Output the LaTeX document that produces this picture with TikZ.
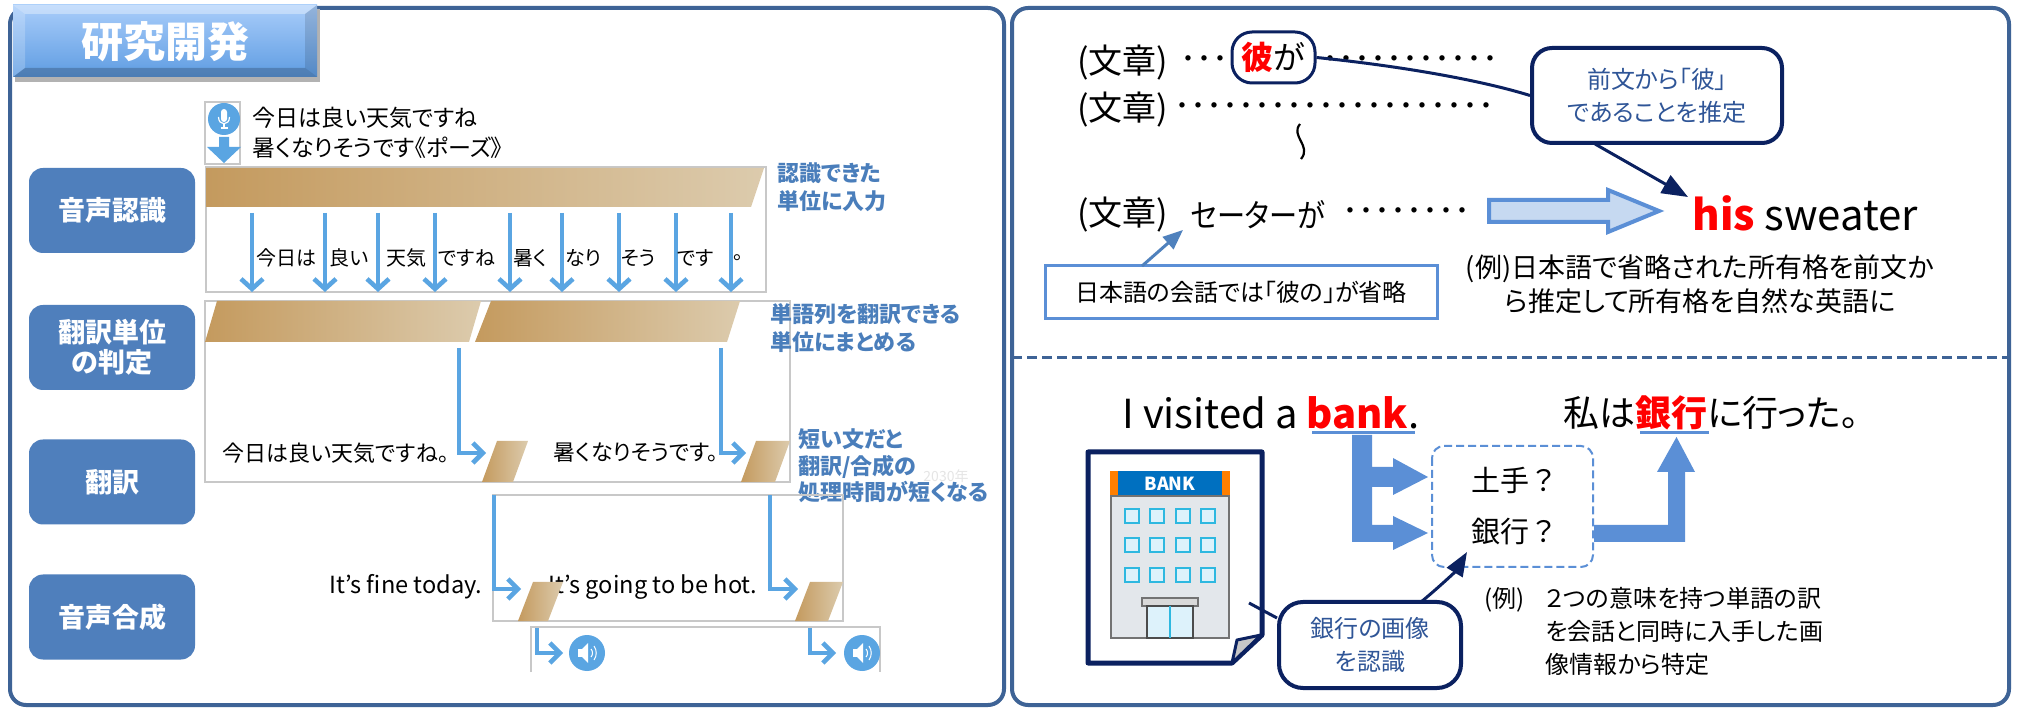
\documentclass[tikz,border=0pt]{standalone}
\usepackage{fontspec}
\setmainfont{Noto Sans CJK JP}[RawFeature=+palt]
\newfontfamily\fullwidth{Noto Sans CJK JP}
\usetikzlibrary{arrows.meta,calc}

\definecolor{frame}{HTML}{3E6396}
\definecolor{labelblue}{HTML}{4F7FBC}
\definecolor{noteblue}{HTML}{4A7EBB}
\definecolor{flowblue}{HTML}{5AA5E2}
\definecolor{tanL}{HTML}{C49A5E}
\definecolor{tanR}{HTML}{DCCBAD}
\definecolor{navy}{HTML}{0B2160}
\definecolor{midblue}{HTML}{5B8FD6}
\definecolor{paleblue}{HTML}{C6D9F1}
\definecolor{textblue}{HTML}{2F5597}
\definecolor{boxgray}{HTML}{C8C8C8}
\definecolor{tabtop}{HTML}{A9CDFA}
\definecolor{tabbot}{HTML}{5E9CE2}
\definecolor{signblue}{HTML}{0070C0}
\definecolor{signorange}{HTML}{FF7F00}
\definecolor{wall}{HTML}{E3E7EB}
\definecolor{glass}{HTML}{DDF2FB}
\definecolor{winedge}{HTML}{2EB8E0}
\definecolor{pointer}{HTML}{4F81BD}

\newcommand\fsz[1]{\fontsize{#1}{1.2\dimexpr #1\relax}\selectfont}

\tikzset{
  labelbox/.style={fill=labelblue, rounded corners=7pt, minimum width=83pt,
    minimum height=42.5pt, text=white, font=\fsz{13.5pt}\bfseries,
    align=center, inner sep=0pt},
  rowbox/.style={draw=boxgray, line width=0.6pt},
  tanbar/.style={left color=tanL, right color=tanR},
  flow/.style={flowblue, line width=2.3pt, -{Straight Barb[length=5pt,width=11pt]}},
  elbow/.style={flowblue, line width=2.3pt, -{Straight Barb[length=5pt,width=10pt]}},
  word/.style={anchor=west, inner sep=0pt, font=\fsz{10pt}},
  note/.style={anchor=west, inner sep=0pt, text=noteblue, font=\fsz{11pt}\bfseries,
    align=left},
  sent/.style={inner sep=0pt, font=\fsz{11pt}},
  big/.style={anchor=west, inner sep=0pt, font=\fsz{17pt}},
  dots/.style={anchor=west, inner sep=0pt, font=\fsz{16pt}},
  callout/.style={draw=navy, line width=2pt, text=textblue, align=center,
    font=\fsz{12pt}, inner sep=0pt},
}

\begin{document}
\begin{tikzpicture}[x=0.5pt,y=-0.5pt]
\useasboundingbox (0,0) rectangle (2018,710);
\fill[white] (0,0) rectangle (2018,710);

% ---------- panels ----------
\draw[frame, line width=2pt, rounded corners=8pt] (10,8) rectangle (1004,705);
\draw[frame, line width=2pt, rounded corners=8pt] (1012,8) rectangle (2009,705);
\draw[frame, line width=1.5pt, dash pattern=on 5pt off 2.5pt] (1012,358) -- (2009,358);

% ---------- title tab ----------
\fill[black!30] (15,9) rectangle (320,82);
\shade[top color=tabtop, bottom color=tabbot] (13,5) rectangle (317,77);
\fill[white, opacity=0.35] (13,5) -- (317,5) -- (305,14) -- (25,14) -- cycle;
\fill[white, opacity=0.2] (13,5) -- (25,14) -- (25,68) -- (13,77) -- cycle;
\fill[black, opacity=0.12] (317,5) -- (305,14) -- (305,68) -- (317,77) -- cycle;
\fill[black, opacity=0.2] (13,77) -- (317,77) -- (305,68) -- (25,68) -- cycle;
\node[text=white, font=\fsz{21pt}\bfseries, inner sep=0pt] (title) at (165,42) {研究開発};

% ---------- stage labels ----------
\node[labelbox] (lab1) at (112,210.5) {音声認識};
\node[labelbox] (lab2) at (112,347.5) {翻訳単位\\[-1pt]の判定};
\node[labelbox] (lab3) at (112,482) {翻訳};
\node[labelbox] (lab4) at (112,617) {音声合成};

% ---------- speech input ----------
\draw[boxgray, line width=0.6pt] (205,102) rectangle (240,164);
\fill[flowblue] (224,119) circle[radius=16];
\fill[white, rounded corners=1.5pt] (221,109) rectangle (227,122);
\draw[white, line width=0.6pt] (218.5,117) .. controls (218.5,126) and (229.5,126) .. (229.5,117);
\draw[white, line width=0.6pt] (224,124) -- (224,128) (220.5,128) -- (227.5,128);
\fill[flowblue] (219,137) -- (229,137) -- (229,147) -- (241,147) -- (224,163) -- (207,147) -- (219,147) -- cycle;
\node[anchor=west, inner sep=0pt, font=\fsz{11.5pt}] (utt1) at (252,118) {今日は良い天気ですね};
\node[anchor=west, inner sep=0pt, font=\fsz{11.5pt}] (utt2) at (252,148) {暑くなりそうです《ポーズ》};

% ---------- recognition row ----------
\draw[rowbox] (206,167) rectangle (766,292);
\shade[tanbar] (206,168) -- (764,168) -- (751,207) -- (206,207) -- cycle;
\foreach \x in {252,325,378,435,510,562,619,676,731}
  \draw[flow] (\x,213) -- (\x,292);
\node[word] (w1) at (256,258) {今日は};
\node[word] (w2) at (329,258) {良い};
\node[word] (w3) at (386,258) {天気};
\node[word] (w4) at (438,258) {ですね};
\node[word] (w5) at (513,258) {暑く};
\node[word] (w6) at (565,258) {なり};
\node[word] (w7) at (621,258) {そう};
\node[word] (w8) at (677,258) {です};
\node[word] (w9) at (733,258) {。};
\node[note] (n1) at (777,187) {認識できた\\[1pt]単位に入力};

% ---------- unit row ----------
\draw[rowbox] (205,301) rectangle (790,482);
\shade[tanbar] (217,301) -- (481,301) -- (469,342) -- (205,342) -- cycle;
\shade[tanbar] (491,301) -- (740,301) -- (727,342) -- (475,342) -- cycle;
\node[note] (n2) at (770,328) {単語列を翻訳できる\\[1pt]単位にまとめる};
\coordinate (u1) at (459,348);
\coordinate (u2) at (721,348);
\coordinate (t1) at (486,453);
\coordinate (t2) at (746,453);
\draw[elbow] (u1) |- (t1);
\draw[elbow] (u2) |- (t2);
\node[sent] (s1) at (336,453) {今日は良い天気ですね。};
\node[sent] (s2) at (636,453) {暑くなりそうです。};
\shade[tanbar] (497,441) -- (528,441) -- (513,482) -- (482,482) -- cycle;
\shade[tanbar] (756,441) -- (790,441) -- (775,482) -- (741,482) -- cycle;
\node[note, align=left] (n3) at (798,466) {短い文だと\\[0pt]翻訳/合成の\\[0pt]処理時間が短くなる};
\node[inner sep=0pt, text=black!10, font=\fsz{7pt}] (yr) at (946,476) {2030年};

% ---------- synthesis row ----------
\draw[rowbox] (493,495) rectangle (843,621);
\coordinate (v1) at (494,495);
\coordinate (v2) at (770,495);
\coordinate (e1) at (521,589);
\coordinate (e2) at (798,589);
\draw[elbow] (v1) |- (e1);
\draw[elbow] (v2) |- (e2);
\node[sent, font=\fsz{11.8pt}] (en1) at (406,587) {It’s fine today.};
\node[sent, font=\fsz{11.8pt}] (en2) at (653,587) {It’s going to be hot.};
\shade[tanbar] (533,582) -- (563,582) -- (548,621) -- (518,621) -- cycle;
\shade[tanbar] (810,582) -- (843,582) -- (828,621) -- (795,621) -- cycle;

% ---------- audio output ----------
\draw[boxgray, line width=0.6pt] (531,672) -- (531,627) -- (880,627) -- (880,672);
\coordinate (a1) at (537,628);
\coordinate (a2) at (810,628);
\coordinate (b1) at (563,653);
\coordinate (b2) at (836,653);
\draw[elbow] (a1) |- (b1);
\draw[elbow] (a2) |- (b2);
\foreach \cx in {587,862} {
  \fill[flowblue] (\cx,653) circle[radius=18];
  \fill[white] (\cx-9,649) rectangle (\cx-5,657);
  \fill[white] (\cx-5,649) -- (\cx+1,643) -- (\cx+1,663) -- (\cx-5,657) -- cycle;
  \draw[white, line width=0.5pt] (\cx+4,649) .. controls (\cx+6,651) and (\cx+6,655) .. (\cx+4,657);
  \draw[white, line width=0.5pt] (\cx+7,646) .. controls (\cx+10,650) and (\cx+10,656) .. (\cx+7,660);
}

% ---------- right top: pronoun ----------
\node[big] (p1) at (1077,63) {(文章)};
\node[dots] (d1) at (1180,63) {･･･};
\node[draw=navy, line width=1.5pt, rounded corners=10pt, minimum width=41.5pt,
  minimum height=25.5pt, inner sep=0pt, font=\fsz{16pt}] (kare) at (1273.5,57.5)
  {\textcolor{red}{\bfseries 彼}が};
\node[dots] (d2) at (1322,63) {･･･････････};
\node[big] (p2) at (1077,110) {(文章)};
\node[dots] (d3) at (1174,110) {････････････････････};
\draw[line width=1.1pt] (1300,124) .. controls (1290,136) and (1312,146) .. (1301,159);
\node[big] (p3) at (1077,215) {(文章)};
\node[big, font=\fsz{16pt}] (p4) at (1190,215) {\scalebox{0.88}[1]{セーターが}};
\node[dots] (d4) at (1342,215) {････････};

\node[callout, rounded corners=10pt, minimum width=125pt, minimum height=47.5pt] (c1)
  at (1657,95.5) {前文から「彼」\\[2pt]であることを推定};
\draw[navy, line width=1.5pt] (kare.east) .. controls (1400,66) and (1480,80) .. (c1.west);

\draw[midblue, fill=paleblue, line width=2pt] (1489,200) -- (1608,200) -- (1608,190)
  -- (1659,211) -- (1608,232) -- (1608,222) -- (1489,222) -- cycle;
\node[anchor=west, inner sep=0pt, font=\fsz{21pt}] (his) at (1692,213)
  {\textcolor{red}{\bfseries his} sweater};
\draw[navy, line width=1.5pt, -{Triangle[length=13pt,width=10pt]}] (1595,144) -- (1688,197);

\node[inner sep=0pt, align=center, font=\fsz{13.5pt}] (ex1) at (1700,284)
  {(例)日本語で省略された所有格を前文か\\[1pt]ら推定して所有格を自然な英語に};
\node[draw=midblue, line width=1.5pt, minimum width=196pt, minimum height=26.5pt,
  inner sep=0pt, font=\fsz{12pt}] (omit) at (1241,292) {日本語の会話では「彼の」が省略};
\coordinate (pt1) at (1183,230);
\draw[pointer, line width=1.5pt, -{Triangle[length=10pt,width=8pt]}] (1142,266) -- (pt1);

% ---------- right bottom: ambiguity ----------
\node[anchor=west, inner sep=0pt, font=\fsz{20pt}] (eng) at (1122,413)
  {I visited a \textcolor{red}{\bfseries bank}.};
\draw[midblue, line width=1.5pt] (1312,433) -- (1415,433);
\node[anchor=west, inner sep=0pt, font=\fsz{18pt}] (jpn) at (1563,413)
  {私は\textcolor{red}{\bfseries 銀行}に行った。};
\draw[midblue, line width=1.5pt] (1640,433) -- (1709,433);

\fill[midblue] (1352,435) -- (1372,435) -- (1372,467) -- (1393,467) -- (1393,458)
  -- (1428,477) -- (1393,495) -- (1393,487) -- (1372,487) -- (1372,525) -- (1393,525)
  -- (1393,516) -- (1428,533) -- (1393,550) -- (1393,542) -- (1352,542) -- cycle;
\draw[midblue, line width=1pt, dash pattern=on 4pt off 2pt, rounded corners=6pt]
  (1432,446) rectangle (1593,567);
\node[inner sep=0pt, font=\fullwidth\fsz{14.5pt}] (cand1) at (1515,480) {土手？};
\node[inner sep=0pt, font=\fullwidth\fsz{14.5pt}] (cand2) at (1515,532) {銀行？};
\fill[midblue] (1594,525) -- (1668,525) -- (1668,472) -- (1657,472) -- (1676.5,437)
  -- (1695,472) -- (1685,472) -- (1685,542) -- (1594,542) -- cycle;

% bank picture
\draw[navy, line width=2.5pt, line join=round] (1088,452) -- (1262,452) -- (1262,635)
  -- (1232,663) -- (1088,663) -- cycle;
\filldraw[fill=black!22, draw=navy, line width=1.5pt, line join=round]
  (1232,663) -- (1237,640) -- (1261,635) -- cycle;
\fill[signorange] (1110,471) rectangle (1230,496);
\fill[signblue] (1118,471) rectangle (1222,496);
\node[text=white, inner sep=0pt, font=\fsz{9pt}\bfseries] (banksign) at (1170,484) {BANK};
\filldraw[fill=wall, draw=black!55, line width=0.6pt] (1111,496) rectangle (1229,638);
\foreach \wx in {1125,1150,1176,1201}
  \foreach \wy in {509,538,568}
    \filldraw[fill=glass, draw=winedge, line width=0.8pt] (\wx,\wy) rectangle (\wx+14,\wy+14);
\filldraw[fill=black!15, draw=black!55, line width=0.6pt] (1142,598) rectangle (1198,606);
\filldraw[fill=glass, draw=black!70, line width=0.6pt] (1147,606) rectangle (1193,638);
\draw[winedge, line width=0.8pt] (1170,606) -- (1170,638);

\node[callout, rounded corners=12pt, minimum width=91pt, minimum height=43pt] (c2)
  at (1370,645) {銀行の画像\\[2pt]を認識};
\coordinate (tail) at (1249,603);
\draw[navy, line width=1.5pt] (tail) -- (c2.west |- 0,618);
\draw[navy, line width=1.5pt, -{Triangle[length=12pt,width=9pt]}] (1421,602)
  .. controls (1438,588) and (1455,572) .. (1467,552);

\node[anchor=west, inner sep=0pt, font=\fsz{12pt}] (ex2a) at (1484,600) {(例)};
\node[anchor=north west, inner sep=0pt, align=left, font=\fsz{12pt}] (ex2b) at (1545,587)
  {２つの意味を持つ単語の訳\\[2pt]を会話と同時に入手した画\\[2pt]像情報から特定};
\end{tikzpicture}
\end{document}
